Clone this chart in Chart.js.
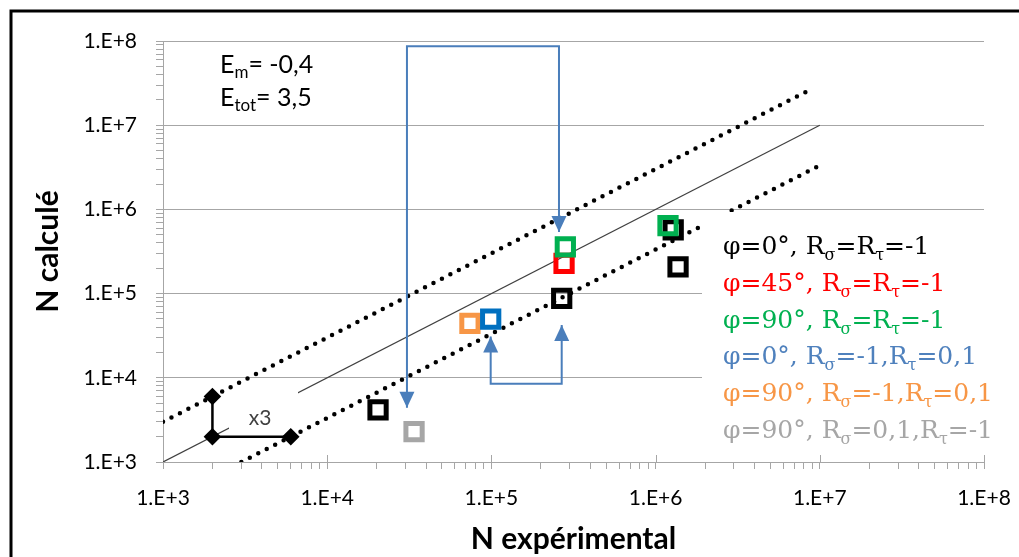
<!DOCTYPE html>
<html>
<head>
<meta charset="utf-8">
<script src="https://cdn.jsdelivr.net/npm/chart.js@4.4.1/dist/chart.umd.min.js"></script>
<style>
  html, body { margin: 0; padding: 0; background: #fff; }
  #wrap { width: 1019px; height: 557px; position: relative; }
</style>
</head>
<body>
<div id="wrap"><canvas id="chart" width="1019" height="557"></canvas></div>
<script>
// Axis ticks
const tickDecades = [1e3, 1e4, 1e5, 1e6, 1e7, 1e8];
const tickLabels = ['1.E+3', '1.E+4', '1.E+5', '1.E+6', '1.E+7', '1.E+8'];
const minorSteps = [2, 3, 4, 5, 6, 7, 8, 9];

// Series (N experimental, N calcule)
const blackX = [2.04e4, 2.68e5, 1.28e6, 1.37e6];
const blackY = [4.16e3, 8.8e4, 5.7e5, 2.08e5];
const redX = [2.77e5];
const redY = [2.29e5];
const greenX = [2.82e5, 1.19e6];
const greenY = [3.6e5, 6.4e5];
const blueX = [9.9e4];
const blueY = [4.96e4];
const orangeX = [7.4e4];
const orangeY = [4.44e4];
const grayX = [3.38e4];
const grayY = [2.3e3];

// Reference lines
const identityX = [1e3, 1e7];
const identityY = [1e3, 1e7];
const upperX = [1e3, 8.84e6];
const upperY = [3e3, 2.67e7];
const lowerX = [3e3, 1e7];
const lowerY = [1e3, 3.33e6];

// "x3" scale marker
const scaleMarkX = [2e3, 2e3, 6e3];
const scaleMarkY = [6e3, 2e3, 2e3];

// Blue arrows
const arrowTopX = [3.06e4, 3.06e4, 2.58e5, 2.58e5];
const arrowTopY = [4.4e3, 8.65e7, 8.65e7, 5.4e5];
const arrowBottomX = [9.9e4, 9.9e4, 2.68e5, 2.68e5];
const arrowBottomY = [3.1e4, 8.5e3, 8.5e3, 4.25e4];

// Legend
const legendLabels = [
  'φ=0°, R_σ=R_τ=-1',
  'φ=45°, R_σ=R_τ=-1',
  'φ=90°, R_σ=R_τ=-1',
  'φ=0°, R_σ=-1,R_τ=0,1',
  'φ=90°, R_σ=-1,R_τ=0,1',
  'φ=90°, R_σ=0,1,R_τ=-1'
];
const legendColors = ['#000000', '#ff0000', '#00b050', '#4f81bd', '#f79646', '#a6a6a6'];
const infoLines = ['E_{m}= -0,4', 'E_{tot}= 3,5'];

const axisGray = '#a6a6a6';
const arrowBlue = '#4a7ebb';

function pts(xs, ys) {
  return xs.map((x, i) => ({ x: x, y: ys[i] }));
}

function squares(label, xs, ys, color, order) {
  return {
    label: label, data: pts(xs, ys), showLine: false, order: order,
    pointStyle: 'rect', pointRadius: 11.5, pointHoverRadius: 11.5,
    pointBorderWidth: 5, pointBorderColor: color, pointBackgroundColor: 'rgba(0,0,0,0)'
  };
}

function buildLogTicks(scale) {
  const ticks = [];
  tickDecades.forEach((d, i) => {
    ticks.push({ value: d, major: true });
    if (i < tickDecades.length - 1) {
      minorSteps.forEach(m => ticks.push({ value: d * m, major: false }));
    }
  });
  scale.ticks = ticks;
}

function tickLabel(value, index, ticks) {
  if (!ticks[index].major) return '';
  const k = tickDecades.findIndex(d => Math.abs(d - value) / d < 1e-6);
  return k >= 0 ? tickLabels[k] : '';
}

// draw text with _x or _{xyz} subscripts
function drawRich(ctx, str, x, y, font, subFont, subDy) {
  let i = 0;
  while (i < str.length) {
    let part = '', sub = false;
    if (str[i] === '_') {
      sub = true;
      if (str[i + 1] === '{') {
        const end = str.indexOf('}', i);
        part = str.slice(i + 2, end);
        i = end + 1;
      } else {
        part = str[i + 1];
        i += 2;
      }
    } else {
      while (i < str.length && str[i] !== '_') { part += str[i]; i++; }
    }
    ctx.font = sub ? subFont : font;
    ctx.fillText(part, x, sub ? y + subDy : y);
    x += ctx.measureText(part).width;
  }
}

const IDENTITY_INDEX = 0;

const decorPlugin = {
  id: 'decor',
  afterDatasetDraw(chart, args) {
    // white box of the "x3" label hides part of the 1:1 line
    if (args.index !== IDENTITY_INDEX) return;
    const ctx = chart.ctx;
    ctx.save();
    ctx.fillStyle = '#ffffff';
    ctx.fillRect(229, 392, 69, 40);
    ctx.fillStyle = '#404040';
    ctx.font = '21px Lato';
    ctx.textAlign = 'center';
    ctx.textBaseline = 'alphabetic';
    ctx.fillText('x3', 260, 425);
    ctx.restore();
  },
  afterDatasetsDraw(chart) {
    const ctx = chart.ctx;
    ctx.save();
    // arrow heads
    chart.data.datasets.forEach((ds, i) => {
      if (!ds.arrow) return;
      const el = chart.getDatasetMeta(i).data;
      [[0, 1], [el.length - 1, el.length - 2]].forEach(([a, b]) => {
        const tip = el[a], prev = el[b];
        const ang = Math.atan2(tip.y - prev.y, tip.x - prev.x);
        const len = 16, half = 7.5;
        ctx.beginPath();
        ctx.moveTo(tip.x, tip.y);
        ctx.lineTo(tip.x - len * Math.cos(ang) + half * Math.sin(ang), tip.y - len * Math.sin(ang) - half * Math.cos(ang));
        ctx.lineTo(tip.x - len * Math.cos(ang) - half * Math.sin(ang), tip.y - len * Math.sin(ang) + half * Math.cos(ang));
        ctx.closePath();
        ctx.fillStyle = arrowBlue;
        ctx.fill();
      });
    });

    // legend box
    ctx.fillStyle = '#ffffff';
    ctx.fillRect(702, 212, 305, 240);
    ctx.textAlign = 'left';
    ctx.textBaseline = 'alphabetic';
    legendLabels.forEach((t, i) => {
      ctx.fillStyle = legendColors[i];
      drawRich(ctx, t, 723, 254 + i * 36.8, '25px "DejaVu Serif"', '16px "DejaVu Serif"', 6);
    });

    // Em / Etot
    ctx.fillStyle = '#000000';
    infoLines.forEach((t, i) => {
      drawRich(ctx, t, 220, 73 + i * 33, '25px Lato', '17px Lato', 5);
    });
    ctx.restore();
  },
  afterDraw(chart) {
    const ctx = chart.ctx;
    const xs = chart.scales.x;
    ctx.save();
    // major x ticks crossing the axis
    ctx.strokeStyle = axisGray;
    ctx.lineWidth = 1;
    tickDecades.slice(1).forEach(d => {
      const px = Math.round(xs.getPixelForValue(d)) + 0.5;
      ctx.beginPath();
      ctx.moveTo(px, xs.top - 7);
      ctx.lineTo(px, xs.top);
      ctx.stroke();
    });
    // outer frame
    ctx.strokeStyle = '#000000';
    ctx.lineWidth = 3;
    ctx.beginPath();
    ctx.moveTo(11, 557);
    ctx.lineTo(11, 11);
    ctx.lineTo(1019, 11);
    ctx.stroke();
    ctx.restore();
  }
};

const chart = new Chart(document.getElementById('chart'), {
  type: 'scatter',
  data: {
    datasets: [
      { label: '1:1', data: pts(identityX, identityY), showLine: true, order: 20,
        borderColor: '#404040', borderWidth: 1.2, pointRadius: 0 },
      { label: 'x3', data: pts(upperX, upperY), showLine: true, order: 19,
        borderColor: '#000000', borderWidth: 4.5, borderDash: [0, 9.5], borderCapStyle: 'round', pointRadius: 0 },
      { label: '/3', data: pts(lowerX, lowerY), showLine: true, order: 18,
        borderColor: '#000000', borderWidth: 4.5, borderDash: [0, 9.5], borderCapStyle: 'round', pointRadius: 0 },
      { label: 'scale', data: pts(scaleMarkX, scaleMarkY), showLine: true, order: 17,
        borderColor: '#000000', borderWidth: 2.5, pointStyle: 'rectRot', pointRadius: 7,
        pointBackgroundColor: '#000000', pointBorderColor: '#000000' },
      { label: 'arrowTop', data: pts(arrowTopX, arrowTopY), showLine: true, order: 16, arrow: true,
        borderColor: arrowBlue, borderWidth: 2, pointRadius: 0 },
      { label: 'arrowBottom', data: pts(arrowBottomX, arrowBottomY), showLine: true, order: 15, arrow: true,
        borderColor: arrowBlue, borderWidth: 2, pointRadius: 0 },
      squares(legendLabels[0], blackX, blackY, '#000000', 10),
      squares(legendLabels[1], redX, redY, '#ff0000', 9),
      squares(legendLabels[2], greenX, greenY, '#00b050', 8),
      squares(legendLabels[4], orangeX, orangeY, '#f79646', 7),
      squares(legendLabels[3], blueX, blueY, '#0070c0', 6),
      squares(legendLabels[5], grayX, grayY, '#a6a6a6', 5)
    ]
  },
  options: {
    responsive: false,
    animation: false,
    events: [],
    layout: { padding: { left: 0, top: 41, right: 35, bottom: 0 } },
    plugins: { legend: { display: false }, tooltip: { enabled: false } },
    scales: {
      x: {
        type: 'logarithmic', min: 1e3, max: 1e8,
        afterBuildTicks: buildLogTicks,
        afterFit: s => { s.height = 95; s.paddingLeft = 0; s.paddingRight = 0; },
        grid: { drawOnChartArea: false, tickColor: axisGray, tickLength: 7 },
        border: { color: axisGray, width: 1 },
        ticks: { autoSkip: false, maxRotation: 0, padding: 17, color: '#000000',
                 font: { family: 'Lato', size: 21 }, callback: tickLabel },
        title: { display: true, text: 'N expérimental', color: '#000000',
                 font: { family: 'Lato', size: 30, weight: 'bold' }, padding: { top: 0, bottom: 0 } }
      },
      y: {
        type: 'logarithmic', min: 1e3, max: 1e8,
        afterBuildTicks: buildLogTicks,
        afterFit: s => { s.width = 163; s.paddingTop = 0; s.paddingBottom = 0; },
        grid: { color: c => (c.tick && c.tick.major ? axisGray : 'rgba(0,0,0,0)'), tickColor: axisGray, tickLength: 7 },
        border: { color: axisGray, width: 1 },
        ticks: { autoSkip: false, padding: 19, color: '#000000',
                 font: { family: 'Lato', size: 21 }, callback: tickLabel },
        title: { display: true, text: 'N calculé', color: '#000000',
                 font: { family: 'Lato', size: 30, weight: 'bold' }, padding: { top: 30, bottom: 0 } }
      }
    }
  },
  plugins: [decorPlugin]
});
</script>
</body>
</html>
